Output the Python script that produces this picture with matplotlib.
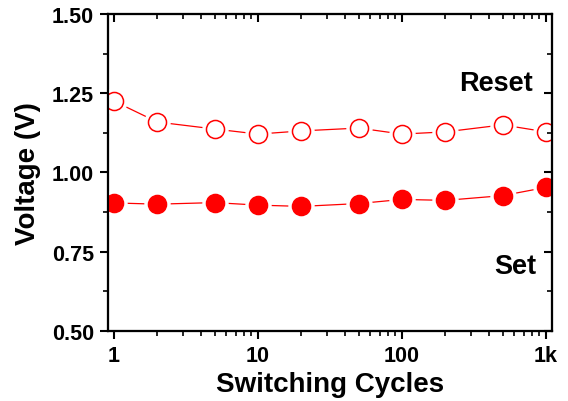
import numpy as np
import matplotlib.pyplot as plt
from matplotlib.ticker import FixedLocator, FixedFormatter, LogLocator, NullFormatter, MultipleLocator

plt.rcParams['font.family'] = ['Liberation Sans', 'DejaVu Sans']
plt.rcParams['font.weight'] = 'bold'

cycles = [1, 2, 5, 10, 20, 50, 100, 200, 500, 1000]
reset_v = [1.225, 1.159, 1.137, 1.121, 1.131, 1.140, 1.121, 1.128, 1.150, 1.128]
set_v = [0.904, 0.900, 0.905, 0.897, 0.893, 0.902, 0.915, 0.912, 0.927, 0.953]

x_ticks = [1, 10, 100, 1000]
x_tick_labels = ['1', '10', '100', '1k']
y_ticks = [0.50, 0.75, 1.00, 1.25, 1.50]

red = '#ff0000'
xlim = (10 ** -0.042, 10 ** 3.042)
ylim = (0.5, 1.5)

fig = plt.figure(figsize=(5.68, 4.02), dpi=100)
ax = fig.add_axes([0.190, 0.174, 0.782, 0.789])

# connecting lines with a small gap around each marker
for vals, filled in [(reset_v, False), (set_v, True)]:
    ax.plot(cycles, vals, '-', color=red, lw=0.9, zorder=2)
    ax.plot(cycles, vals, 'o', ms=18, color='white', mec='white', zorder=3)
    ax.plot(cycles, vals, 'o', ms=13, color=red, mec=red, mew=1.1,
            mfc=red if filled else 'white', zorder=4)

ax.set_xscale('log')
ax.set_xlim(*xlim)
ax.set_ylim(*ylim)

ax.xaxis.set_major_locator(FixedLocator(x_ticks))
ax.xaxis.set_major_formatter(FixedFormatter(x_tick_labels))
ax.xaxis.set_minor_locator(LogLocator(base=10, subs=np.arange(2, 10)))
ax.xaxis.set_minor_formatter(NullFormatter())
ax.yaxis.set_major_locator(FixedLocator(y_ticks))
ax.yaxis.set_major_formatter(FixedFormatter(['%.2f' % v for v in y_ticks]))
ax.yaxis.set_minor_locator(MultipleLocator(0.125))

ax.tick_params(which='major', direction='out', length=6, width=1.5, labelsize=15.5, pad=4)
ax.tick_params(which='minor', direction='out', length=3.5, width=1.2)
for lab in ax.get_xticklabels() + ax.get_yticklabels():
    lab.set_fontweight('bold')

for sp in ax.spines.values():
    sp.set_linewidth(1.5)

# top and right ticks point inward
top = ax.twiny()
top.set_xscale('log')
top.set_xlim(*xlim)
top.xaxis.set_major_locator(FixedLocator(x_ticks))
top.xaxis.set_minor_locator(LogLocator(base=10, subs=np.arange(2, 10)))
top.xaxis.set_major_formatter(NullFormatter())
top.xaxis.set_minor_formatter(NullFormatter())
top.tick_params(which='major', direction='in', length=6, width=1.5)
top.tick_params(which='minor', direction='in', length=3.5, width=1.2)

right = ax.twinx()
right.set_ylim(*ylim)
right.yaxis.set_major_locator(FixedLocator(y_ticks))
right.yaxis.set_minor_locator(MultipleLocator(0.125))
right.yaxis.set_major_formatter(NullFormatter())
right.tick_params(which='major', direction='in', length=6, width=1.5)
right.tick_params(which='minor', direction='in', length=3.5, width=1.2)
for a in (top, right):
    for sp in a.spines.values():
        sp.set_linewidth(1.5)

ax.set_xlabel('Switching Cycles', fontsize=20, fontweight='bold', labelpad=4)
ax.set_ylabel('Voltage (V)', fontsize=20, fontweight='bold', labelpad=8)

ax.text(815, 1.282, 'Reset', fontsize=19.5, fontweight='bold', ha='right', va='center')
ax.text(855, 0.705, 'Set', fontsize=19.5, fontweight='bold', ha='right', va='center')

fig.savefig('out.png', dpi=100)
